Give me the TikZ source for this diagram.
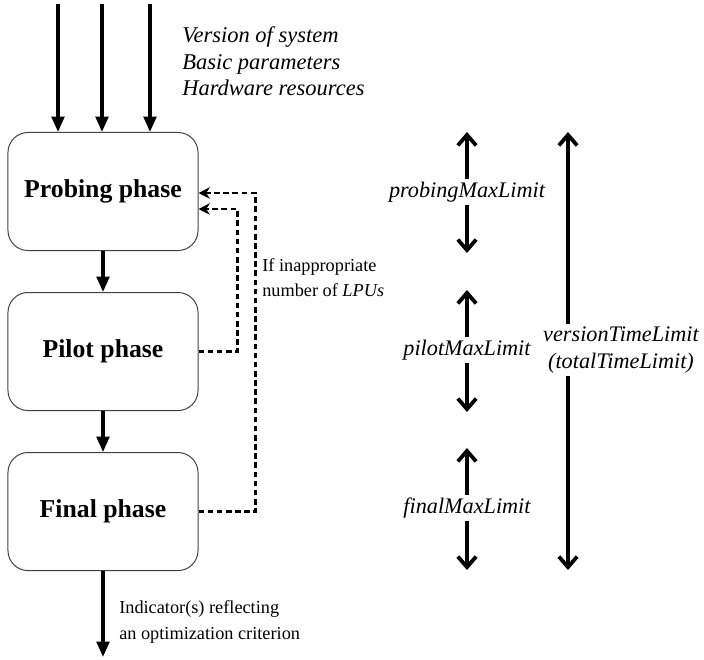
\documentclass[tikz,border=0pt]{standalone}
\usepackage{fontspec}
\setmainfont{Liberation Serif}
\usetikzlibrary{positioning,arrows.meta,calc}

\begin{document}
\begin{tikzpicture}[x=0.025cm, y=-0.025cm,
   phase/.style={draw=black!75, line width=0.7pt, rounded corners=0.5cm,
      minimum width=4.75cm, minimum height=2.95cm,
      font=\fontsize{18.3}{21}\selectfont\bfseries},
   flow/.style={line width=2.4pt, -{Triangle[length=11pt,width=9pt]}},
   fb/.style={line width=1.9pt, dash pattern=on 4pt off 2.5pt,
      -{Stealth[length=8pt,width=8pt]}},
   limarrow/.style={line width=2.7pt, -{Straight Barb[length=7.5pt,width=13pt]}},
   limlabel/.style={fill=white, inner sep=2pt,
      font=\fontsize{15.8}{19.2}\selectfont\itshape},
   note/.style={align=left, inner sep=0pt, anchor=west,
      font=\fontsize{13}{17.8}\selectfont}]
   %\draw[step=50,gray,very thin] (0,0) grid (704,659);
   \useasboundingbox (0,0) rectangle (704,659);

   % phases
   \node [phase] (probe) at (103,191.5) {Probing phase};
   \node [phase, below=1.025cm of probe] (pilot) {Pilot phase};
   \node [phase, below=1.025cm of pilot] (final) {Final phase};

   % inputs
   \coordinate (in1) at (58,4);
   \coordinate (in2) at (102,4);
   \coordinate (in3) at (150,4);
   \draw [flow] (in1) -- (in1 |- probe.north);
   \draw [flow] (in2) -- (in2 |- probe.north);
   \draw [flow] (in3) -- (in3 |- probe.north);
   \node [note, font=\fontsize{16}{18.8}\selectfont\itshape] (inputs) at (182,61.5)
      {Version of system\\Basic parameters\\Hardware resources};

   \draw [flow] (probe) -- (pilot);
   \draw [flow] (pilot) -- (final);

   % output
   \coordinate (out) at (103,657);
   \draw [flow] (final) -- (out);
   \node [note] (indic) at (119,622)
      {Indicator(s) reflecting\\an optimization criterion};

   % feedback
   \draw [fb] (pilot.east) -- ++(39,0) |- ($(probe.east)+(0,17.5)$);
   \draw [fb] (final.east) -- ++(57,0) |- ($(probe.east)+(0,1.5)$);
   \node [note] (cond) at (262,277.5)
      {If inappropriate\\number of \textit{LPUs}};

   % time limits
   \coordinate (ptop) at (467,132);
   \coordinate (pbot) at (467,253);
   \coordinate (ltop) at (467,290);
   \coordinate (lbot) at (467,412);
   \coordinate (ftop) at (467,448);
   \coordinate (fbot) at (467,570);
   \node [limlabel] (plim) at (467,192) {probingMaxLimit};
   \node [limlabel] (llim) at (467,350) {pilotMaxLimit};
   \node [limlabel] (flim) at (467,508) {finalMaxLimit};
   \draw [limarrow] (plim) -- (ptop);
   \draw [limarrow] (plim) -- (pbot);
   \draw [limarrow] (llim) -- (ltop);
   \draw [limarrow] (llim) -- (lbot);
   \draw [limarrow] (flim) -- (ftop);
   \draw [limarrow] (flim) -- (fbot);

   \coordinate (vtop) at (568,132);
   \coordinate (vbot) at (568,570);
   \node [limlabel, align=center, fill=none] (vlim) at (621,350)
      {versionTimeLimit\\(totalTimeLimit)};
   \draw [limarrow] (vlim.north -| vtop) -- (vtop);
   \draw [limarrow] (vlim.south -| vtop) -- (vbot);

\end{tikzpicture}
\end{document}
